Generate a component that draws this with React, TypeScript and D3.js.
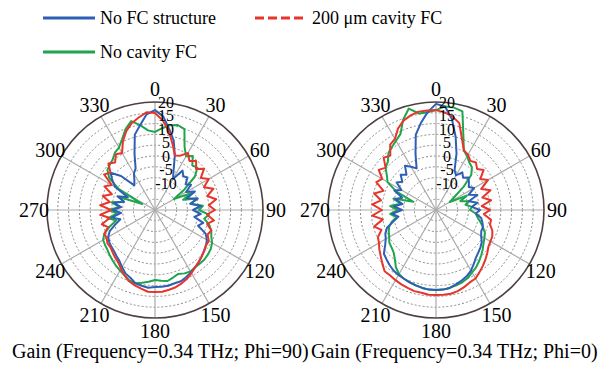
import React, { useEffect, useRef } from "react";
import * as d3 from "d3";

// angles of the samples, degrees clockwise from the top
const angles = d3.range(0, 360, 5);

// gain in dB, Phi = 90 cut
const noFcPhi90 = [
  17, 14.8, 10.4, 6.7, 1.5, -3.7, -6.7, -2.2, -3.7, -3, -5.2, -3.7,
  -6.7, -3.7, -7.4, -3.7, -6.7, -3, -5.9, -3, -5.2, -1.5, -3, 0.7,
  2.2, 3, 3.7, 4.4, 5.2, 5.9, 6.7, 7.4, 8.1, 8.1, 8.5, 8.5,
  8.5, 8.9, 8.5, 8.1, 6.7, 5.9, 4.4, 3, 2.2, 1.5, 1.1, 0.7,
  0, -1.5, -4.4, -6.7, -3.7, -7.4, -4.4, -7.4, -4.4, -8.1, -5.2, -8.9,
  -3, -0.7, 1.5, -2.2, -8.1, -6.7, -4.4, -3, 2.2, 8.9, 11.9, 15.6,
];
const cavity200Phi90 = [
  15.9, 13.3, 9.6, 5.2, 1.5, 2.2, 4.4, 2.2, 3.7, 1.5, 3.7, 0.7,
  3, 0, 3, 0, 3, 0, 2.2, -0.7, 2.2, 0, 2.2, 1.5,
  3, 3, 3.7, 4.4, 5.2, 5.9, 7, 8.1, 8.9, 9.6, 10, 10.4,
  10.4, 10.4, 9.6, 8.9, 8.1, 6.7, 5.2, 3.7, 3, 2.2, 1.5, 1.5,
  0.7, 0.7, -1.5, 0.4, -3, 0.4, -3.7, 0.4, -3, 0, -3, 0.7,
  -1.5, 3, 1.5, 4.4, 3, 5.2, 4.4, 8.1, 11.1, 13.3, 14.8, 16.3,
];
const noCavityPhi90 = [
  8.9, 10.4, 11.9, 12.6, 11.9, 5.9, 3, 4.4, 1.5, 2.2, -0.7, -6.7,
  -11.9, -5.2, -8.9, -3.7, -6.7, -2.2, -3.7, 0, -1.5, 0.7, 2.2, 3,
  4.4, 5.2, 5.6, 5.9, 5.9, 5.9, 6.3, 5.9, 5.2, 5.9, 6.7, 6.3,
  5.9, 6.7, 7.4, 8.1, 7.8, 6.7, 5.9, 5.2, 4.4, 3.7, 3, 2.6,
  2.2, 0.7, -2.2, -5.2, -2.2, -5.9, -3, -6.7, -3.7, -8.1, -5.9, -14.8,
  -4.4, 0.7, 3, 3.7, 4.4, 5.9, 6.7, 8.9, 11.9, 14.1, 11.9, 9.6,
];

// gain in dB, Phi = 0 cut
const noFcPhi0 = [
  19.3, 18.5, 14.1, 8.1, 2.2, -3.7, -5.2, -3, -4.4, -3, -4.1, -5.2,
  -3.7, -6.7, -3.7, -7.4, -4.4, -6.7, -3.7, -5.2, -3, -2.2, -1.5, -1.5,
  -0.7, 0.7, 1.5, 2.2, 3, 4.4, 5.9, 7, 7.8, 8.5, 9.3, 9.6,
  9.6, 9.6, 9.3, 8.9, 8.5, 8.1, 7.8, 7.4, 6.7, 5.9, 5.2, 3,
  1.5, 0.7, -0.7, -3.7, -5.9, -3.7, -7.4, -4.4, -7.4, -4.4, -6.7, -3,
  -5.2, -2.2, -3.7, -1.5, -3, 0, -1.5, -3, 2.2, 8.9, 12.6, 16.3,
];
const cavity200Phi0 = [
  17, 16.3, 15.2, 13.3, 8.1, 4.4, 3.7, 2.2, 3, 1.5, 3, 0,
  2.2, -1.5, 1.5, -2.2, 0.7, -3, 0, -2.2, 0.7, 0.7, 2.2, 3,
  3.3, 3.7, 4.8, 5.9, 7, 8.1, 9.3, 9.6, 10.4, 11.1, 11.5, 11.5,
  11.5, 11.5, 11.1, 11.1, 10.7, 10.4, 10, 9.6, 9.6, 8.1, 6.7, 5.6,
  4.4, 3.7, 1.5, 3.7, 0, 3.7, 0, 3.7, 0.7, 3.7, 0.7, 4.4,
  3, 5.9, 4.4, 7.4, 6.3, 9.6, 10.4, 13.3, 15.2, 16.3, 17, 17,
];
const noCavityPhi0 = [
  17, 18.5, 18.5, 17.8, 9.6, 4.4, 3, 1.5, 0.7, -1.5, -6.7, -11.9,
  -14.1, -7.4, -10.4, -7.4, -8.9, -6.7, -7.4, -5.2, -4.4, -3, -1.5, 0,
  0.7, 1.5, 2.6, 3.7, 4.8, 5.9, 6.7, 7.8, 8.5, 8.9, 9.3, 9.6,
  9.6, 9.6, 9.3, 8.9, 8.5, 8.1, 7.4, 5.9, 3.7, 2.2, 1.5, 1.1,
  0, -0.7, -1.5, -3, -5.2, -3, -5.9, -3, -6.7, -3.7, -11.1, -3.7,
  0.7, 2.2, 4.4, 5.2, 7.4, 8.5, 9.6, 11.1, 15.6, 18.9, 16.3, 16.3,
];

const radialTicks = [20, 15, 10, 5, 0, -5, -10];
const ringValues = [-16, -12, -8, -4, 0, 4, 8, 12, 16];
const angleTicks = [0, 30, 60, 90, 120, 150, 180, 210, 240, 270, 300, 330];

const seriesNames = ["No FC structure", "200 \u03bcm cavity FC", "No cavity FC"];
const colors = ["#2f5fb5", "#e8352b", "#20a44d"];

const panels = [
  { cx: 155, cy: 210, caption: "Gain (Frequency=0.34 THz; Phi=90)", capX: 12, series: [noFcPhi90, cavity200Phi90, noCavityPhi90] },
  { cx: 436, cy: 210, caption: "Gain (Frequency=0.34 THz; Phi=0)", capX: 311, series: [noFcPhi0, cavity200Phi0, noCavityPhi0] },
];

const FONT = "'Liberation Serif', 'Times New Roman', serif";

const App = () => {
  const svgRef = useRef(null);

  useEffect(() => {
    const svg = d3.select(svgRef.current);
    svg.selectAll("*").remove();
    const R = 108;
    const r = d3.scaleLinear().domain([-20, 20]).range([0, R]);

    // legend
    const legend = [
      { x: 43, y: 18, i: 0 },
      { x: 255, y: 18, i: 1 },
      { x: 43, y: 52, i: 2 },
    ];
    legend.forEach((l) => {
      svg.append("line")
        .attr("x1", l.x).attr("x2", l.x + 52)
        .attr("y1", l.y).attr("y2", l.y)
        .attr("stroke", colors[l.i])
        .attr("stroke-width", 3)
        .attr("stroke-dasharray", l.i === 1 ? "9,4" : null);
      svg.append("text")
        .attr("x", l.x + 57).attr("y", l.y + 6)
        .attr("font-family", FONT).attr("font-size", 18)
        .text(seriesNames[l.i]);
    });

    panels.forEach((p) => {
      const g = svg.append("g").attr("transform", `translate(${p.cx},${p.cy})`);

      g.selectAll(".ring").data(ringValues).enter().append("circle")
        .attr("r", (d) => r(d))
        .attr("fill", "none")
        .attr("stroke", "#8a8a8a")
        .attr("stroke-width", 1)
        .attr("stroke-dasharray", "2,2");

      g.selectAll(".spoke").data(angleTicks).enter().append("line")
        .attr("x1", 0).attr("y1", 0)
        .attr("x2", (d) => R * Math.sin((d * Math.PI) / 180))
        .attr("y2", (d) => -R * Math.cos((d * Math.PI) / 180))
        .attr("stroke", "#aaaaaa")
        .attr("stroke-width", 1.2);

      g.append("circle").attr("r", R)
        .attr("fill", "none").attr("stroke", "#4e4040").attr("stroke-width", 1.6);

      const line = d3.lineRadial()
        .angle((d, i) => (angles[i] * Math.PI) / 180)
        .radius((d) => r(d))
        .curve(d3.curveLinearClosed);

      [2, 0, 1].forEach((i) => {
        g.append("path")
          .attr("d", line(p.series[i]))
          .attr("fill", "none")
          .attr("stroke", colors[i])
          .attr("stroke-width", 2)
          .attr("stroke-linejoin", "round");
      });

      g.selectAll(".rlab").data(radialTicks).enter().append("text")
        .attr("x", 11)
        .attr("y", (d) => -r(d))
        .attr("dy", "0.35em")
        .attr("text-anchor", "middle")
        .attr("font-family", FONT).attr("font-size", 16)
        .text((d) => d);

      g.selectAll(".alab").data(angleTicks).enter().append("text")
        .attr("x", (d) => 121 * Math.sin((d * Math.PI) / 180))
        .attr("y", (d) => -121 * Math.cos((d * Math.PI) / 180))
        .attr("dy", "0.35em")
        .attr("text-anchor", "middle")
        .attr("font-family", FONT).attr("font-size", 20)
        .text((d) => d);

      svg.append("text")
        .attr("x", p.capX).attr("y", 358)
        .attr("font-family", FONT).attr("font-size", 20)
        .text(p.caption);
    });
  }, []);

  return (
    <svg ref={svgRef} width={611} height={369}
      style={{ position: "absolute", left: 0, top: 0, background: "#fff" }} />
  );
};

export default App;
